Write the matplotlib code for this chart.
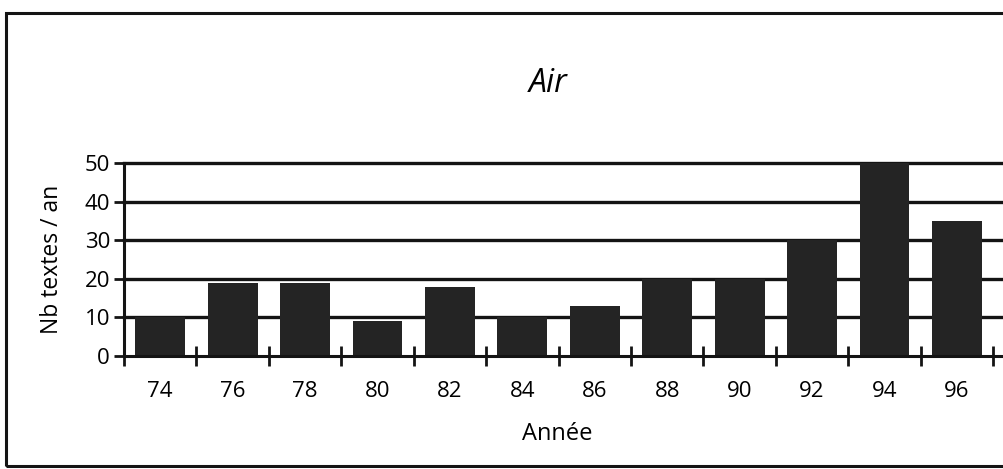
import matplotlib
matplotlib.use("Agg")
import matplotlib.pyplot as plt
from matplotlib.patches import Rectangle
import numpy as np

years  = ["74", "76", "78", "80", "82", "84", "86", "88", "90", "92", "94", "96"]
values = [10, 19, 19, 9, 18, 10, 13, 20, 20, 30, 50, 35]

bar_col  = [0.14, 0.14, 0.14]
line_col = [0.08, 0.08, 0.08]

plt.rcParams['font.family'] = ['Open Sans', 'DejaVu Sans']

fig = plt.figure(figsize=(10.04, 4.69), dpi=100)
fig.patch.set_facecolor("white")

# outer frame (right side runs off the scan)
fig.patches.append(Rectangle((6 / 1004, 3 / 469), 1.2, 453 / 469, transform=fig.transFigure,
                             fill=False, edgecolor=line_col, linewidth=2.2))

ax = fig.add_axes([124 / 1004, 1 - 356 / 469, 1 - 124 / 1004, 193 / 469])
x = np.arange(len(years))
ax.bar(x, values, width=0.69, color=bar_col, zorder=3)

ax.set_ylim(0, 50)
ax.set_xlim(-0.5, 11.65)
ax.set_yticks([0, 10, 20, 30, 40, 50])
for v in [10, 20, 30, 40, 50]:
    ax.axhline(v, color=line_col, linewidth=2.4, zorder=2, clip_on=False)

ax.set_xticks(np.arange(-0.5, 12, 1))
ax.set_xticklabels([])
ax.set_xticks(x, minor=True)
ax.set_xticklabels(years, minor=True)
ax.tick_params(axis="x", which="major", direction="inout", length=14, width=2, color=line_col)
ax.tick_params(axis="x", which="minor", length=0, pad=18, labelsize=16)
ax.tick_params(axis="y", direction="out", length=7, width=2, color=line_col, labelsize=16, pad=3)

for s in ["top", "right"]:
    ax.spines[s].set_visible(False)
for s in ["left", "bottom"]:
    ax.spines[s].set_linewidth(2.2)
    ax.spines[s].set_color(line_col)
    ax.spines[s].set_zorder(4)

ax.set_xlabel("Année", fontsize=17)
ax.xaxis.set_label_coords((557 - 124) / 880, -0.34)
ax.set_ylabel("Nb textes / an", fontsize=16.5)
ax.yaxis.set_label_coords(-0.068, 0.5)

fig.text(548 / 1004, 1 - 83 / 469, "Air", fontsize=23, style="italic",
         family=["Liberation Sans Narrow", "Open Sans", "DejaVu Sans"], ha="center", va="center")

plt.savefig("out.png", dpi=100)
plt.close()
